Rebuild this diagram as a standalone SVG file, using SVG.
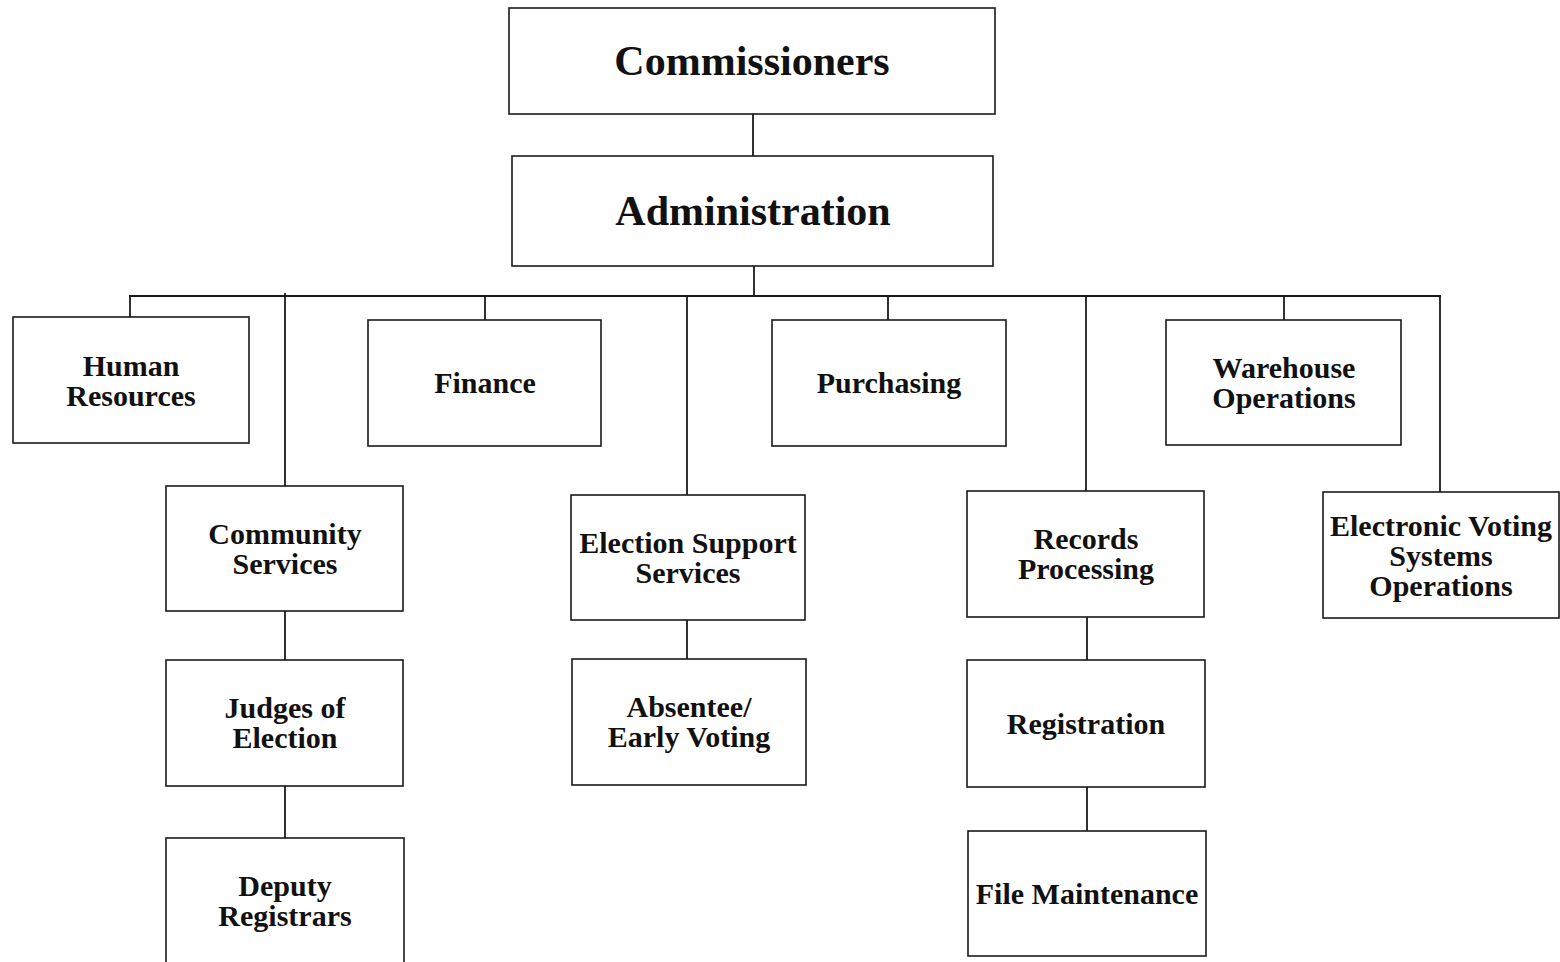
<svg xmlns="http://www.w3.org/2000/svg" width="1560" height="962" viewBox="0 0 1560 962">
<style>
rect.box{fill:#fff;stroke:#1a1a1a;stroke-width:1.6}
.c line{stroke:#1a1a1a;stroke-width:1.8}
text{font-family:"Liberation Serif","Times New Roman",serif;font-weight:bold;fill:#111;text-anchor:middle}
.big{font-size:42px}
.sm{font-size:30px}
</style>
<rect width="1560" height="962" fill="#fff"/>
<g class="c" id="connectors">
<line x1="753" y1="114" x2="753" y2="156"/>
<line x1="754" y1="266" x2="754" y2="296"/>
<line x1="129" y1="296" x2="1441" y2="296"/>
<line x1="130" y1="296" x2="130" y2="317"/>
<line x1="285" y1="293" x2="285" y2="486"/>
<line x1="485" y1="296" x2="485" y2="320"/>
<line x1="687" y1="296" x2="687" y2="495"/>
<line x1="888" y1="296" x2="888" y2="320"/>
<line x1="1086" y1="296" x2="1086" y2="491"/>
<line x1="1284" y1="296" x2="1284" y2="320"/>
<line x1="1440" y1="296" x2="1440" y2="492"/>
<line x1="285" y1="611" x2="285" y2="660"/>
<line x1="285" y1="786" x2="285" y2="838"/>
<line x1="687" y1="620" x2="687" y2="659"/>
<line x1="1087" y1="617" x2="1087" y2="660"/>
<line x1="1087" y1="787" x2="1087" y2="831"/>
</g>
<g id="commissioners"><rect class="box" x="509" y="8" width="486" height="106"/><text class="big" x="752" y="75">Commissioners</text></g>
<g id="administration"><rect class="box" x="512" y="156" width="481" height="110"/><text class="big" x="753" y="225">Administration</text></g>
<g id="human-resources"><rect class="box" x="13" y="317" width="236" height="126"/><text class="sm" x="131" y="376">Human</text><text class="sm" x="131" y="406">Resources</text></g>
<g id="finance"><rect class="box" x="368" y="320" width="233" height="126"/><text class="sm" x="485" y="393">Finance</text></g>
<g id="purchasing"><rect class="box" x="772" y="320" width="234" height="126"/><text class="sm" x="889" y="393">Purchasing</text></g>
<g id="warehouse"><rect class="box" x="1166" y="320" width="235" height="125"/><text class="sm" x="1284" y="378">Warehouse</text><text class="sm" x="1284" y="408">Operations</text></g>
<g id="community-services"><rect class="box" x="166" y="486" width="237" height="125"/><text class="sm" x="285" y="544">Community</text><text class="sm" x="285" y="574">Services</text></g>
<g id="election-support"><rect class="box" x="571" y="495" width="234" height="125"/><text class="sm" x="688" y="553">Election Support</text><text class="sm" x="688" y="583">Services</text></g>
<g id="records-processing"><rect class="box" x="967" y="491" width="237" height="126"/><text class="sm" x="1086" y="549">Records</text><text class="sm" x="1086" y="579">Processing</text></g>
<g id="electronic-voting"><rect class="box" x="1323" y="492" width="236" height="126"/><text class="sm" x="1441" y="536">Electronic Voting</text><text class="sm" x="1441" y="566">Systems</text><text class="sm" x="1441" y="596">Operations</text></g>
<g id="judges"><rect class="box" x="166" y="660" width="237" height="126"/><text class="sm" x="285" y="718">Judges of</text><text class="sm" x="285" y="748">Election</text></g>
<g id="absentee"><rect class="box" x="572" y="659" width="234" height="126"/><text class="sm" x="689" y="717">Absentee/</text><text class="sm" x="689" y="747">Early Voting</text></g>
<g id="registration"><rect class="box" x="967" y="660" width="238" height="127"/><text class="sm" x="1086" y="734">Registration</text></g>
<g id="deputy-registrars"><rect class="box" x="166" y="838" width="238" height="132"/><text class="sm" x="285" y="896">Deputy</text><text class="sm" x="285" y="926">Registrars</text></g>
<g id="file-maintenance"><rect class="box" x="968" y="831" width="238" height="125"/><text class="sm" x="1087" y="904">File Maintenance</text></g>
</svg>
